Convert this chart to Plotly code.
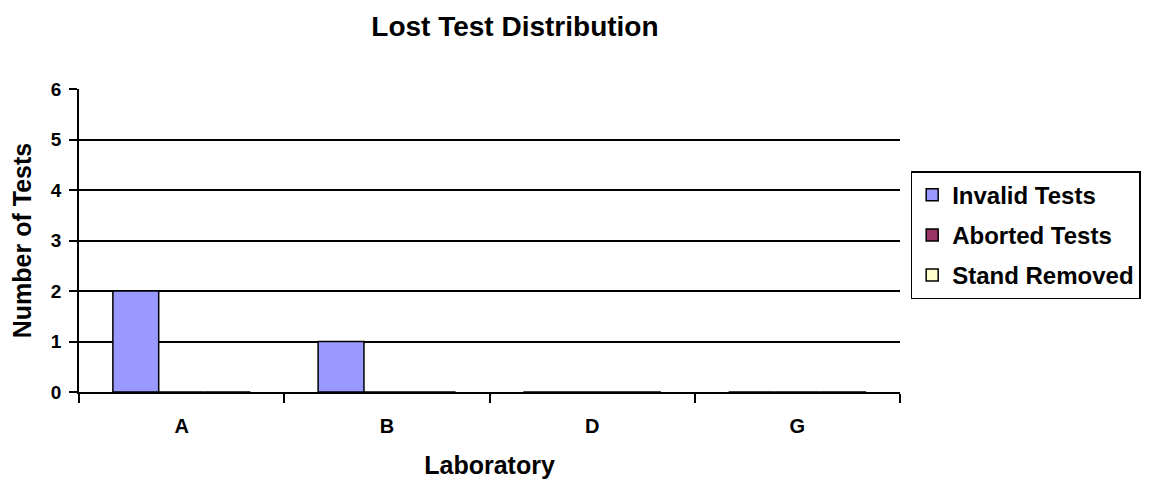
import plotly.graph_objects as go

categories = ["A", "B", "D", "G"]
invalid_tests = [2, 1, 0, 0]
aborted_tests = [0, 0, 0, 0]
stand_removed = [0, 0, 0, 0]

FONT = "Arial, Liberation Sans, sans-serif"

fig = go.Figure()
series = [
    ("Invalid Tests", invalid_tests, "#9999FF"),
    ("Aborted Tests", aborted_tests, "#993366"),
    ("Stand Removed", stand_removed, "#FFFFCC"),
]
for name, vals, color in series:
    fig.add_trace(go.Bar(
        x=categories, y=vals, name="<b>" + name + "</b>", legendgroup=name,
        marker=dict(color=color, line=dict(color="black", width=1.5)),
    ))

fig.update_layout(
    width=1152, height=479,
    margin=dict(l=71, r=260, t=81, b=95),
    paper_bgcolor="white", plot_bgcolor="white",
    font=dict(family=FONT, color="black"),
    barmode="group", bargap=0.33, bargroupgap=0,
    title=dict(text="<b>Lost Test Distribution</b>", x=0.531, xref="paper",
               xanchor="center", y=0.962, yanchor="middle",
               font=dict(size=28, family=FONT)),
    legend=dict(
        x=1.013, xanchor="left", y=0.729, yanchor="top",
        bordercolor="black", borderwidth=1.5, bgcolor="white",
        font=dict(size=24, family=FONT, color="black"),
        tracegroupgap=6, traceorder="grouped", itemwidth=30,
    ),
    showlegend=True,
)
fig.update_xaxes(
    showline=True, linecolor="black", linewidth=1.5,
    ticks="outside", ticklen=9, tickwidth=1.5, tickcolor="black",
    tickson="boundaries", ticklabelstandoff=15,
    tickfont=dict(size=20, family=FONT), tickprefix="<b>", ticksuffix="</b>",
    title=dict(text="<b>Laboratory</b>", font=dict(size=25, family=FONT), standoff=21),
    showgrid=False, automargin=False,
)
fig.update_yaxes(
    range=[0, 6], dtick=1,
    showline=True, linecolor="black", linewidth=1.5,
    ticks="outside", ticklen=8, tickwidth=1.5, tickcolor="black",
    ticklabelstandoff=4,
    showgrid=True, gridcolor="black", gridwidth=1.5,
    zeroline=False,
    tickfont=dict(size=19, family=FONT), tickprefix="<b>", ticksuffix="</b>",
    title=dict(text="<b>Number of Tests</b>", font=dict(size=25, family=FONT), standoff=18),
    automargin=False,
)
fig.write_html("out.html")
